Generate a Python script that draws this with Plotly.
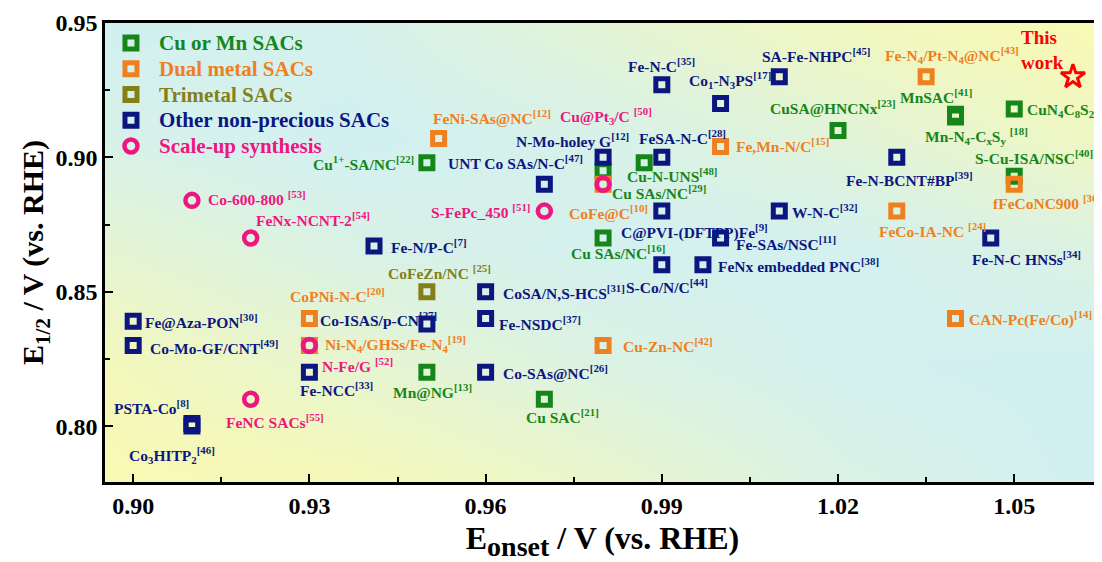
import plotly.graph_objects as go

# ---------------- data ----------------
# Cu or Mn SACs
g_names = ["Cu<sup>1+</sup>-SA/NC<sup>[22]</sup>", "Cu-N-UNS<sup>[48]</sup>", "Cu SAs/NC<sup>[29]</sup>",
           "Cu SAs/NC<sup>[16]</sup>", "Cu SAC<sup>[21]</sup>", "Mn@NG<sup>[13]</sup>",
           "CuSA@HNCNx<sup>[23]</sup>", "MnSAC<sup>[41]</sup>",
           "Mn-N<sub>4</sub>-C<sub>x</sub>S<sub>y</sub> <sup>[18]</sup>",
           "CuN<sub>4</sub>C<sub>8</sub>S<sub>2</sub><sup>[6]</sup>", "S-Cu-ISA/NSC<sup>[40]</sup>"]
g_x = [0.950, 0.987, 0.980, 0.980, 0.970, 0.950, 1.020, 1.040, 1.040, 1.050, 1.050]
g_y = [0.898, 0.898, 0.895, 0.870, 0.810, 0.820, 0.910, 0.916, 0.915, 0.918, 0.893]

# Dual metal SACs
d_names = ["FeNi-SAs@NC<sup>[12]</sup>", "Fe,Mn-N/C<sup>[15]</sup>",
           "Fe-N<sub>4</sub>/Pt-N<sub>4</sub>@NC<sup>[43]</sup>", "fFeCoNC900 <sup>[36]</sup>",
           "FeCo-IA-NC <sup>[24]</sup>", "CAN-Pc(Fe/Co)<sup>[14]</sup>", "CoPNi-N-C<sup>[20]</sup>",
           "Cu-Zn-NC<sup>[42]</sup>", "CoFe@C<sup>[10]</sup>",
           "Ni-N<sub>4</sub>/GHSs/Fe-N<sub>4</sub><sup>[19]</sup>"]
d_x = [0.952, 1.000, 1.035, 1.050, 1.030, 1.040, 0.930, 0.980, 0.980, 0.930]
d_y = [0.907, 0.904, 0.930, 0.890, 0.880, 0.840, 0.840, 0.830, 0.890, 0.830]

# Trimetal SACs
t_names = ["CoFeZn/NC <sup>[25]</sup>"]
t_x = [0.950]
t_y = [0.850]

# Other non-precious SACs
o_names = ["Fe-N-C<sup>[35]</sup>", "Co<sub>1</sub>-N<sub>3</sub>PS<sup>[17]</sup>", "SA-Fe-NHPC<sup>[45]</sup>",
           "FeSA-N-C<sup>[28]</sup>", "N-Mo-holey G<sup>[12]</sup>", "UNT Co SAs/N-C<sup>[47]</sup>",
           "Fe-N-BCNT#BP<sup>[39]</sup>", "C@PVI-(DFTPP)Fe<sup>[9]</sup>", "W-N-C<sup>[32]</sup>",
           "Fe-SAs/NSC<sup>[11]</sup>", "Fe-N-C HNSs<sup>[34]</sup>", "Fe-N/P-C<sup>[7]</sup>",
           "S-Co/N/C<sup>[44]</sup>", "FeNx embedded PNC<sup>[38]</sup>", "CoSA/N,S-HCS<sup>[31]</sup>",
           "Fe-NSDC<sup>[37]</sup>", "Co-ISAS/p-CN<sup>[27]</sup>", "Fe@Aza-PON<sup>[30]</sup>",
           "Co-Mo-GF/CNT<sup>[49]</sup>", "Fe-NCC<sup>[33]</sup>", "Co-SAs@NC<sup>[26]</sup>",
           "PSTA-Co<sup>[8]</sup>", "Co<sub>3</sub>HITP<sub>2</sub><sup>[46]</sup>"]
o_x = [0.990, 1.000, 1.010, 0.990, 0.980, 0.970, 1.030, 0.990, 1.010, 1.000, 1.046, 0.941,
       0.990, 0.997, 0.960, 0.960, 0.950, 0.900, 0.900, 0.930, 0.960, 0.910, 0.910]
o_y = [0.927, 0.920, 0.930, 0.900, 0.900, 0.890, 0.900, 0.880, 0.880, 0.870, 0.870, 0.867,
       0.860, 0.860, 0.850, 0.840, 0.838, 0.839, 0.830, 0.820, 0.820, 0.801, 0.800]

# Scale-up synthesis
s_names = ["Co-600-800 <sup>[53]</sup>", "FeNx-NCNT-2<sup>[54]</sup>", "S-FePc_450 <sup>[51]</sup>",
           "Cu@Pt<sub>3</sub>/C <sup>[50]</sup>", "N-Fe/G <sup>[52]</sup>", "FeNC SACs<sup>[55]</sup>"]
s_x = [0.910, 0.920, 0.970, 0.980, 0.930, 0.920]
s_y = [0.884, 0.870, 0.880, 0.890, 0.830, 0.810]

# This work
w_x = [1.060]
w_y = [0.930]

legend_names = ["Cu or Mn SACs", "Dual metal SACs", "Trimetal SACs", "Other non-precious SACs",
                "Scale-up synthesis"]

x_ticks = [0.90, 0.93, 0.96, 0.99, 1.02, 1.05]
y_ticks = [0.80, 0.85, 0.90, 0.95]

# ---------------- label offsets (px) ----------------
g_off = [(-11, 0, 'right'), (-19, -12, 'left'), (7, -21, 'left'), (-34, -14, 'left'), (-20, -17, 'left'),
         (-36, -19, 'left'), (-70, 23, 'left'), (-58, 18, 'left'), (-33, -19, 'left'), (11, 0, 'left'),
         (-41, 19, 'left')]
d_off = [(-8, 22, 'left'), (13, 2, 'left'), (-43, 22, 'left'), (-23, -18, 'left'), (-20, -19, 'left'),
         (11, 0, 'left'), (-21, 24, 'left'), (18, 0, 'left'), (-36, -28, 'left'), (14, 1, 'left')]
t_off = [(-41, 20, 'left')]
o_off = [(-36, 20, 'left'), (-34, 24, 'left'), (-19, 22, 'left'), (-25, 20, 'left'), (-89, 17, 'left'),
         (-98, 22, 'left'), (-53, -22, 'left'), (-43, -20, 'left'), (11, 0, 'left'), (13, -5, 'left'),
         (-21, -20, 'left'), (15, 0, 'left'), (-38, -21, 'left'), (13, 0, 'left'), (15, 0, 'left'),
         (11, -4, 'left'), (-109, 5, 'left'), (10, 0, 'left'), (15, -2, 'left'), (-11, -17, 'left'),
         (15, 0, 'left'), (-1, 16, 'right'), (-65, -29, 'left')]
s_off = [(14, 2, 'left'), (3, 19, 'left'), (-12, 0, 'right'), (-45, 68, 'left'), (11, -20, 'left'),
         (-27, -22, 'left')]

GREEN = '#16861a'
ORANGE = '#ef8020'
OLIVE = '#848019'
NAVY = '#0c1680'
PINK = '#ee1680'
RED = '#ff0000'
FONT = 'Liberation Serif'

X_RANGE = [0.8952, 1.0646]
Y_RANGE = [0.7792, 0.95]

fig = go.Figure()

# background gradient (style only)
bg_x = [X_RANGE[0], 0.937, 0.98, 1.022, X_RANGE[1]]
bg_y = [Y_RANGE[0], 0.822, 0.865, 0.907, Y_RANGE[1]]
bg_z = [[1.0, 0.9, 0.6, 0.2, 0.0],
        [0.85, 0.55, 0.25, 0.05, 0.0],
        [0.5, 0.2, 0.05, 0.05, 0.25],
        [0.15, 0.0, 0.15, 0.4, 0.75],
        [0.0, 0.1, 0.45, 0.8, 1.0]]
fig.add_trace(go.Heatmap(x=bg_x, y=bg_y, z=bg_z, zsmooth='best', showscale=False, hoverinfo='skip',
                         colorscale=[[0, 'rgb(210,240,242)'], [1, 'rgb(249,249,178)']],
                         zmin=0, zmax=1, showlegend=False))

groups = [
    (g_names, g_x, g_y, g_off, GREEN, 'square-open'),
    (d_names, d_x, d_y, d_off, ORANGE, 'square-open'),
    (t_names, t_x, t_y, t_off, OLIVE, 'square-open'),
    (o_names, o_x, o_y, o_off, NAVY, 'square-open'),
    (s_names, s_x, s_y, s_off, PINK, 'circle-open'),
]

def msize(sym):
    return (13, 4.5) if sym == 'circle-open' else (12, 5)

annotations = []
for names, xs, ys, offs, col, sym in groups:
    size, lw = msize(sym)
    fig.add_trace(go.Scatter(
        x=xs, y=ys, mode='markers', showlegend=False,
        marker=dict(symbol=sym, size=size, color=col, line=dict(width=lw, color=col)),
        hovertext=names, hoverinfo='text'))
    for n, xv, yv, (dx, dy, anc) in zip(names, xs, ys, offs):
        annotations.append(dict(x=xv, y=yv, xref='x', yref='y', text=f"<b>{n}</b>", showarrow=False,
                                xanchor=anc, yanchor='middle', xshift=dx, yshift=dy,
                                font=dict(family=FONT, size=15.5, color=col)))

fig.add_trace(go.Scatter(x=w_x, y=w_y, mode='markers', showlegend=False, hoverinfo='text', hovertext='This work',
                         marker=dict(symbol='star-open', size=18, color=RED, line=dict(width=3, color=RED))))
annotations.append(dict(x=w_x[0], y=w_y[0], xref='x', yref='y', text="<b>This<br>work</b>", showarrow=False,
                        xanchor='left', yanchor='middle', xshift=-54, yshift=27, align='left',
                        font=dict(family=FONT, size=19, color=RED)))

# manual legend (markers on an invisible overlay axis, text as annotations)
LEG_MX, LEG_TX, LEG_Y0, LEG_DY = 0.0261, 0.0523, 0.9564, 0.0561
for i, (lname, grp) in enumerate(zip(legend_names, groups)):
    col, sym = grp[4], grp[5]
    size, lw = msize(sym)
    yy = LEG_Y0 - i * LEG_DY
    fig.add_trace(go.Scatter(x=[LEG_MX], y=[yy], xaxis='x2', yaxis='y2', mode='markers', showlegend=False,
                             hoverinfo='skip',
                             marker=dict(symbol=sym, size=size, color=col, line=dict(width=lw, color=col))))
    annotations.append(dict(x=LEG_TX, y=yy, xref='x2', yref='y2', text=f"<b>{lname}</b>", showarrow=False,
                            xanchor='left', yanchor='middle', font=dict(family=FONT, size=21, color=col)))

axis_common = dict(showgrid=False, zeroline=False, showline=True, linecolor='black', linewidth=2.5,
                   mirror=True, ticks='inside', ticklen=8, tickwidth=2, tickcolor='black', automargin=False,
                   tickfont=dict(family=FONT, size=24, color='black', weight='bold'))

fig.update_layout(
    width=1094, height=554,
    margin=dict(l=97, r=2, t=15, b=80),
    paper_bgcolor='white', plot_bgcolor='white',
    annotations=annotations,
    showlegend=False,
    xaxis=dict(range=X_RANGE, tickmode='array', tickvals=x_ticks,
               ticktext=[f"{v:.2f}" for v in x_ticks],
               minor=dict(ticks='inside', ticklen=5, tickwidth=2, tickcolor='black', dtick=0.015, tick0=0.90),
               title=dict(text="<b>E<sub><span style='font-size:28px'>onset</span></sub> / V (vs. RHE)</b>",
                          standoff=16, font=dict(family=FONT, size=32, color='black')),
               **axis_common),
    yaxis=dict(range=Y_RANGE, tickmode='array', tickvals=y_ticks,
               ticktext=[f"{v:.2f}" for v in y_ticks],
               minor=dict(ticks='inside', ticklen=5, tickwidth=2, tickcolor='black', dtick=0.025, tick0=0.80),
               title=dict(text="<b>E<sub>1/2</sub> / V (vs. RHE)</b>", standoff=3,
                          font=dict(family=FONT, size=30, color='black')),
               **axis_common),
    xaxis2=dict(overlaying='x', range=[0, 1], visible=False, fixedrange=True),
    yaxis2=dict(overlaying='y', range=[0, 1], visible=False, fixedrange=True),
)

fig.write_html("out.html")
